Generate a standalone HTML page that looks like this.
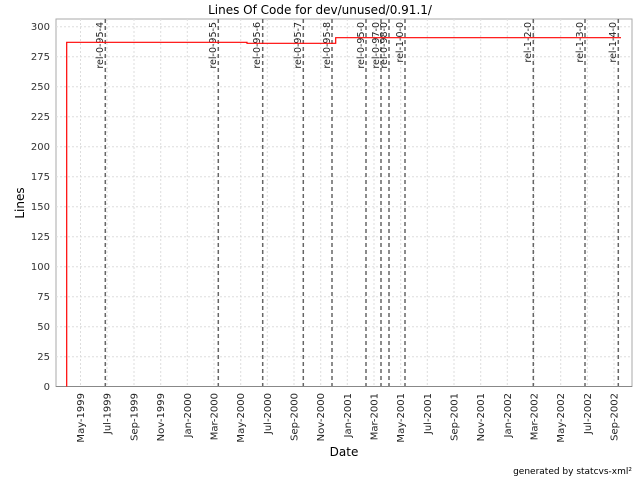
<!DOCTYPE html>
<html><head><meta charset="utf-8"><style>html,body{margin:0;padding:0;background:#fff}svg{display:block}</style></head>
<body>
<svg width="640" height="480" xmlns="http://www.w3.org/2000/svg" font-family="DejaVu Sans, Liberation Sans, sans-serif">
<rect width="640" height="480" fill="#fff"/>
<text x="320" y="14" font-size="12" text-anchor="middle" fill="#000">Lines Of Code for dev/unused/0.91.1/</text>
<rect x="56" y="19" width="576" height="367.5" fill="#fff" stroke="#aaa" stroke-width="1"/>
<g stroke="#ddd" stroke-dasharray="2,2" stroke-width="1">
<line x1="56" x2="632" y1="26.7" y2="26.7"/><line x1="56" x2="632" y1="56.7" y2="56.7"/><line x1="56" x2="632" y1="86.7" y2="86.7"/><line x1="56" x2="632" y1="116.7" y2="116.7"/><line x1="56" x2="632" y1="146.7" y2="146.7"/><line x1="56" x2="632" y1="176.7" y2="176.7"/><line x1="56" x2="632" y1="206.7" y2="206.7"/><line x1="56" x2="632" y1="236.7" y2="236.7"/><line x1="56" x2="632" y1="266.7" y2="266.7"/><line x1="56" x2="632" y1="296.7" y2="296.7"/><line x1="56" x2="632" y1="326.7" y2="326.7"/><line x1="56" x2="632" y1="356.7" y2="356.7"/>
<line x1="80.5" x2="80.5" y1="19" y2="386"/><line x1="107" x2="107" y1="19" y2="386"/><line x1="134" x2="134" y1="19" y2="386"/><line x1="160.7" x2="160.7" y1="19" y2="386"/><line x1="187.3" x2="187.3" y1="19" y2="386"/><line x1="214" x2="214" y1="19" y2="386"/><line x1="240.7" x2="240.7" y1="19" y2="386"/><line x1="267.3" x2="267.3" y1="19" y2="386"/><line x1="294" x2="294" y1="19" y2="386"/><line x1="320.7" x2="320.7" y1="19" y2="386"/><line x1="347.3" x2="347.3" y1="19" y2="386"/><line x1="374" x2="374" y1="19" y2="386"/><line x1="400.7" x2="400.7" y1="19" y2="386"/><line x1="427.3" x2="427.3" y1="19" y2="386"/><line x1="454" x2="454" y1="19" y2="386"/><line x1="480.7" x2="480.7" y1="19" y2="386"/><line x1="507.3" x2="507.3" y1="19" y2="386"/><line x1="534" x2="534" y1="19" y2="386"/><line x1="560.7" x2="560.7" y1="19" y2="386"/><line x1="587.3" x2="587.3" y1="19" y2="386"/><line x1="614" x2="614" y1="19" y2="386"/>
</g>
<line x1="56" x2="632" y1="386.5" y2="386.5" stroke="#888"/>
<g font-size="10" text-anchor="end" fill="#333">
<text x="50" y="30">300</text><text x="50" y="60">275</text><text x="50" y="90">250</text><text x="50" y="120">225</text><text x="50" y="150">200</text><text x="50" y="180">175</text><text x="50" y="210">150</text><text x="50" y="240">125</text><text x="50" y="270">100</text><text x="50" y="300">75</text><text x="50" y="330">50</text><text x="50" y="360">25</text><text x="50" y="390">0</text>
</g>
<g stroke="#666" stroke-dasharray="4,3" stroke-width="1.5">
<line x1="105.3" x2="105.3" y1="19" y2="386"/><line x1="218.3" x2="218.3" y1="19" y2="386"/><line x1="262.7" x2="262.7" y1="19" y2="386"/><line x1="303.3" x2="303.3" y1="19" y2="386"/><line x1="332" x2="332" y1="19" y2="386"/><line x1="366" x2="366" y1="19" y2="386"/><line x1="381" x2="381" y1="19" y2="386"/><line x1="389" x2="389" y1="19" y2="386"/><line x1="405" x2="405" y1="19" y2="386"/><line x1="533.3" x2="533.3" y1="19" y2="386"/><line x1="585" x2="585" y1="19" y2="386"/><line x1="618.3" x2="618.3" y1="19" y2="386"/>
</g>
<g font-size="9.5" text-anchor="end" fill="#222">
<text transform="translate(103,22) rotate(-90)">rel-0-95-4</text>
<text transform="translate(216,22) rotate(-90)">rel-0-95-5</text>
<text transform="translate(260,22) rotate(-90)">rel-0-95-6</text>
<text transform="translate(301,22) rotate(-90)">rel-0-95-7</text>
<text transform="translate(330,22) rotate(-90)">rel-0-95-8</text>
<text transform="translate(364,22) rotate(-90)">rel-0-95-0</text>
<text transform="translate(379,22) rotate(-90)">rel-0-97-0</text>
<text transform="translate(387,22) rotate(-90)">rel-0-98-0</text>
<text transform="translate(403,22) rotate(-90)">rel-1-0-0</text>
<text transform="translate(531,22) rotate(-90)">rel-1-2-0</text>
<text transform="translate(583,22) rotate(-90)">rel-1-3-0</text>
<text transform="translate(616,22) rotate(-90)">rel-1-4-0</text>
</g>
<polyline fill="none" stroke="#f00" stroke-width="1.2" points="66.7,386.5 66.7,42.3 247,42.3 247,43.3 335.7,43.3 335.7,37.7 621,37.7"/>
<g font-size="10" text-anchor="end" fill="#222">
<text transform="translate(84,393) rotate(-90)">May-1999</text>
<text transform="translate(110.5,393) rotate(-90)">Jul-1999</text>
<text transform="translate(137.5,393) rotate(-90)">Sep-1999</text>
<text transform="translate(164.2,393) rotate(-90)">Nov-1999</text>
<text transform="translate(190.8,393) rotate(-90)">Jan-2000</text>
<text transform="translate(217.5,393) rotate(-90)">Mar-2000</text>
<text transform="translate(244.2,393) rotate(-90)">May-2000</text>
<text transform="translate(270.8,393) rotate(-90)">Jul-2000</text>
<text transform="translate(297.5,393) rotate(-90)">Sep-2000</text>
<text transform="translate(324.2,393) rotate(-90)">Nov-2000</text>
<text transform="translate(350.8,393) rotate(-90)">Jan-2001</text>
<text transform="translate(377.5,393) rotate(-90)">Mar-2001</text>
<text transform="translate(404.2,393) rotate(-90)">May-2001</text>
<text transform="translate(430.8,393) rotate(-90)">Jul-2001</text>
<text transform="translate(457.5,393) rotate(-90)">Sep-2001</text>
<text transform="translate(484.2,393) rotate(-90)">Nov-2001</text>
<text transform="translate(510.8,393) rotate(-90)">Jan-2002</text>
<text transform="translate(537.5,393) rotate(-90)">Mar-2002</text>
<text transform="translate(564.2,393) rotate(-90)">May-2002</text>
<text transform="translate(590.8,393) rotate(-90)">Jul-2002</text>
<text transform="translate(617.5,393) rotate(-90)">Sep-2002</text>
</g>
<text x="344" y="456" font-size="12" text-anchor="middle" fill="#000">Date</text>
<text transform="translate(24,203) rotate(-90)" font-size="12" text-anchor="middle" fill="#000">Lines</text>
<text x="632" y="474" font-size="9" text-anchor="end" fill="#000">generated by statcvs-xml²</text>
</svg>
</body></html>
